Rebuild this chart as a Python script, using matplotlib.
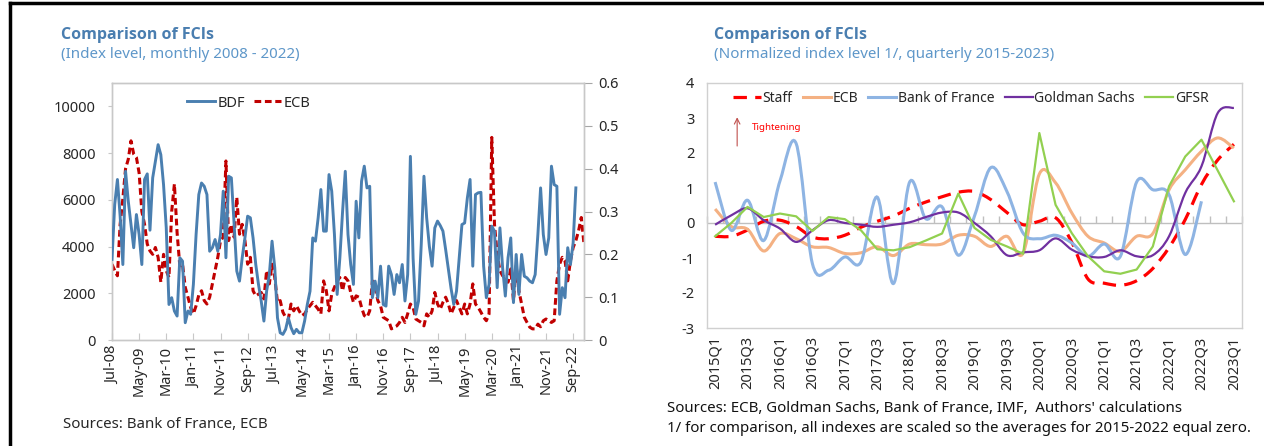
import numpy as np
import matplotlib
matplotlib.use("Agg")
import matplotlib.pyplot as plt
from matplotlib.path import Path
from matplotlib.patches import PathPatch
from matplotlib.lines import Line2D

plt.rcParams['font.family'] = ['Noto Sans', 'DejaVu Sans']

# ---- left chart: monthly index levels, Jul-08 onwards ----
bdf = [3450, 5800, 6870, 5300, 3230, 7220, 5940, 4940, 3950, 5370,
       4515, 3230, 6870, 7110, 4700, 6940, 7650, 8360, 7930, 6650,
       4800, 1520, 1810, 1240, 1025, 3520, 3375, 740, 1240, 1100,
       2380, 4515, 6225, 6720, 6580, 6225, 3800, 3950, 4300, 3800,
       4515, 6370, 3520, 7010, 6940, 5000, 2950, 2520, 3520, 4370,
       5300, 5230, 4370, 3230, 2380, 1670, 810, 2090, 2800, 4230,
       3090, 950, 310, 240, 455, 950, 530, 270, 455, 310,
       310, 810, 1520, 2090, 4370, 4230, 5230, 6440, 4660, 4660,
       7080, 6370, 4515, 1950, 3520, 5500, 7220, 4515, 3230, 2380,
       5940, 4370, 6800, 7440, 6510, 6580, 1810, 2520, 1810, 3160,
       1520, 1450, 3160, 2800, 1950, 2800, 2450, 3230, 1670, 2800,
       7860, 3500, 1100, 1670, 4090, 7010, 5230, 4000, 3160, 4800,
       5090, 4900, 4660, 3870, 3020, 2200, 1520, 2090, 3520, 4940,
       5010, 6080, 6870, 3160, 6225, 6300, 6320, 3160, 1810, 2380,
       4870, 4660, 2240, 4800, 3090, 1880, 3520, 4370, 1600, 3660,
       1950, 3660, 2730, 2660, 2520, 2450, 2800, 4515, 6510, 4515,
       3660, 4370, 7440, 6650, 6580, 1100, 2240, 1810, 3950, 3230,
       4160, 6510]
ecb_m = [.177, .162, .15, .27, .33, .40, .422, .465, .434, .426,
         .39, .30, .27, .224, .208, .20, .216, .193, .135, .20,
         .162, .146, .30, .364, .25, .173, .177, .123, .10, .076,
         .061, .08, .105, .115, .092, .084, .10, .131, .162, .193,
         .232, .24, .418, .232, .27, .24, .333, .247, .27, .232,
         .177, .193, .115, .103, .107, .111, .096, .162, .131, .177,
         .146, .088, .092, .065, .053, .049, .084, .068, .08, .068,
         .057, .061, .072, .08, .088, .08, .072, .061, .138, .115,
         .068, .107, .123, .138, .146, .115, .146, .138, .111, .088,
         .103, .10, .076, .057, .053, .068, .138, .123, .092, .08,
         .053, .049, .045, .026, .03, .033, .041, .053, .041, .061,
         .084, .076, .049, .045, .041, .033, .061, .053, .068, .111,
         .084, .072, .088, .10, .084, .061, .076, .092, .076, .061,
         .084, .061, .084, .131, .084, .076, .065, .053, .045, .061,
         .473, .27, .20, .162, .15, .146, .135, .166, .092, .173,
         .115, .084, .053, .041, .03, .026, .026, .037, .031, .045,
         .049, .045, .041, .045, .138, .177, .193, .185, .138, .185,
         .216, .232, .255, .286, .224]
month_labels = ["Jul-08", "May-09", "Mar-10", "Jan-11", "Nov-11", "Sep-12",
                "Jul-13", "May-14", "Mar-15", "Jan-16", "Nov-16", "Sep-17",
                "Jul-18", "May-19", "Mar-20", "Jan-21", "Nov-21", "Sep-22"]

# ---- right chart: normalized quarterly indexes, 2015Q1-2023Q1 ----
quarters = [f"{y}Q{q}" for y in range(2015, 2024) for q in range(1, 5)][:33]
staff = [-0.38, -0.38, -0.2, 0.05, 0.08, -0.1, -0.4, -0.45, -0.35, -0.12,
         0.05, 0.2, 0.42, 0.6, 0.75, 0.88, 0.9, 0.67, 0.3, -0.05,
         0.05, 0.15, -0.55, -1.6, -1.72, -1.78, -1.65, -1.3, -0.7, 0.1,
         1.1, 1.8, 2.25]
ecb_q = [0.4, -0.1, -0.18, -0.8, -0.3, -0.45, -0.68, -0.7, -0.87, -0.85,
         -0.68, -0.93, -0.6, -0.62, -0.6, -0.35, -0.38, -0.67, -0.38, -0.86,
         1.4, 1.15, 0.29, -0.38, -0.57, -0.81, -0.38, -0.3, 0.95, 1.52,
         2.05, 2.43, 2.14]
bank_of_france = [1.17, -0.21, 0.65, -0.5, 1.2, 2.27, -1.16, -1.35, -0.97, -1.11,
                  0.74, -1.73, 1.17, 0.12, 0.46, -0.92, 0.2, 1.58, 0.9, -0.29,
                  -0.45, -0.35, -0.57, -0.95, -0.6, -0.95, 1.17, 0.95, 0.81, -0.9,
                  0.62]
goldman = [-0.05, 0.22, 0.42, 0.08, -0.16, -0.54, -0.21, 0.08, 0.0, -0.05,
           -0.11, -0.05, 0.02, 0.17, 0.3, 0.3, 0.0, -0.38, -0.92, -0.84,
           -0.78, -0.44, -0.76, -0.95, -0.97, -0.78, -0.95, -0.92, -0.38, 0.86,
           1.62, 3.14, 3.29]
gfsr = [-0.38, 0.0, 0.46, 0.17, 0.27, 0.19, -0.23, 0.17, 0.11, -0.21,
        -0.75, -0.78, -0.69, -0.5, -0.3, 0.84, -0.14, -0.48, -0.67, -0.88,
        2.57, 0.52, -0.29, -0.95, -1.38, -1.45, -1.33, -0.67, 1.05, 1.9,
        2.38, 1.5, 0.62]

TITLE = '#4A7EB0'
SUB = '#5E97C9'
GRID = '#C8C8C8'
TXT = '#262626'
TITLE_FONT = ['Open Sans', 'DejaVu Sans']


def smooth_path(xs, ys):
    # Excel-like smoothed line: Catmull-Rom converted to cubic bezier segments
    pts = np.column_stack([xs, ys]).astype(float)
    n = len(pts)
    verts = [pts[0]]
    codes = [Path.MOVETO]
    for i in range(n - 1):
        p0 = pts[max(i - 1, 0)]
        p1 = pts[i]
        p2 = pts[i + 1]
        p3 = pts[min(i + 2, n - 1)]
        verts += [p1 + (p2 - p0) / 6.0, p2 - (p3 - p1) / 6.0, p2]
        codes += [Path.CURVE4] * 3
    return Path(verts, codes)


fig = plt.figure(figsize=(12.64, 4.46), dpi=100)

# frame lines of the pasted image
fig.add_artist(Line2D([10 / 1264, 10 / 1264], [0, 0.993], color='black', lw=2.5))
fig.add_artist(Line2D([10 / 1264, 1], [0.993, 0.993], color='black', lw=2.5))

# ================= left chart =================
ax = fig.add_axes([112 / 1264, 1 - 340 / 446, 472 / 1264, 257 / 446])
ax2 = ax.twinx()
m = np.arange(len(bdf))
me = np.arange(len(ecb_m))
ax.plot(m, bdf, color='#4A7FB0', lw=2.1, label='BDF', zorder=3)
ax2.plot(me, ecb_m, color='#C00000', lw=2.2, ls=(0, (2.2, 1.2)), label='ECB')
ax.set_zorder(ax2.get_zorder() + 1)
ax.patch.set_visible(False)

ax.set_xlim(0, 174)
ax.set_ylim(0, 11000)
ax2.set_ylim(0, 0.6)
ax.set_yticks(range(0, 10001, 2000))
ax.set_yticklabels([str(v) for v in range(0, 10001, 2000)])
ax2.set_yticks(np.arange(0, 0.61, 0.1))
ax2.set_yticklabels(['0', '0.1', '0.2', '0.3', '0.4', '0.5', '0.6'])
ax.set_xticks(np.arange(0, 171, 10))
ax.set_xticklabels(month_labels, rotation=90)
for a in (ax, ax2):
    for s in a.spines.values():
        s.set_color(GRID)
        s.set_linewidth(1.0)
ax.tick_params(axis='x', direction='in', length=5, color=GRID, labelsize=10.5, labelcolor=TXT, pad=4)
ax.tick_params(axis='y', direction='out', length=3, color=GRID, labelsize=10.5, labelcolor=TXT, pad=9)
ax2.tick_params(axis='y', direction='out', length=6, color='#A6A6A6', labelsize=10.5, labelcolor=TXT, pad=4)

h1, l1 = ax.get_legend_handles_labels()
h2, l2 = ax2.get_legend_handles_labels()
ax.legend(h1 + h2, l1 + l2, loc='center', bbox_to_anchor=(0.29, 0.922), ncol=2,
          frameon=False, fontsize=10.5, handlelength=1.9, handletextpad=0.15,
          columnspacing=0.6, labelcolor=TXT)

fig.text(61 / 1264, 1 - 35 / 446, 'Comparison of FCIs', fontsize=11.5, fontweight='bold',
         family=TITLE_FONT, color=TITLE, va='center', ha='left')
fig.text(61 / 1264, 1 - 55 / 446, '(Index level, monthly 2008 - 2022)', fontsize=10.9,
         color=SUB, va='center', ha='left')
fig.text(63 / 1264, 1 - 425 / 446, 'Sources: Bank of France, ECB', fontsize=10.8,
         color=TXT, va='center', ha='left')

# ================= right chart =================
bx = fig.add_axes([707 / 1264, 1 - 328 / 446, 535 / 1264, 245 / 446])
q = np.arange(len(quarters))
series = [
    (staff, 'Staff', dict(color='#FF0000', lw=2.3, ls=(0, (4.2, 2.6)))),
    (ecb_q, 'ECB', dict(color='#F4B183', lw=2.2, ls='-')),
    (bank_of_france, 'Bank of France', dict(color='#8EB4E3', lw=2.2, ls='-')),
    (goldman, 'Goldman Sachs', dict(color='#7030A0', lw=1.6, ls='-')),
]
handles = []
for vals, name, st in series:
    path = smooth_path(q[:len(vals)], vals)
    bx.add_patch(PathPatch(path, fill=False, edgecolor=st['color'], lw=st['lw'],
                           linestyle=st['ls'], capstyle='butt', zorder=3))
    handles.append(Line2D([], [], color=st['color'], lw=st['lw'], ls=st['ls'], label=name))
ln, = bx.plot(q, gfsr, color='#92D050', lw=1.6, label='GFSR', zorder=3)
handles.append(ln)

bx.set_xlim(-0.5, 32.5)
bx.set_ylim(-3, 4)
bx.set_yticks(range(-3, 5))
bx.set_yticklabels([str(v) for v in range(-3, 5)])
bx.set_xticks(q[::2])
bx.set_xticklabels(quarters[::2], rotation=90)
bx.axhline(0, color='#BFBFBF', lw=1.0, zorder=1)
for s in bx.spines.values():
    s.set_color('#D0D0D0')
    s.set_linewidth(1.0)
bx.tick_params(axis='x', length=0, labelsize=10.5, labelcolor=TXT, pad=6)
bx.tick_params(axis='y', length=0, labelsize=10.5, labelcolor=TXT, pad=9)

# tick marks sitting on the zero line, between categories
zx = bx.secondary_xaxis(3 / 7)
zx.set_xticks(np.arange(-0.5, 33, 1))
zx.tick_params(axis='x', direction='in', length=5, color='#BFBFBF', labelbottom=False,
               labeltop=False, width=1.0)
zx.spines['bottom'].set_visible(False)
zx.spines['top'].set_visible(False)

bx.legend(handles=handles, loc='center', bbox_to_anchor=(0.493, 0.938), ncol=5,
          frameon=False, fontsize=10, handlelength=2.0, handletextpad=0.12,
          columnspacing=0.75, labelcolor=TXT)

bx.annotate('', xy=(1.36, 3.1), xytext=(1.36, 2.12),
            arrowprops=dict(arrowstyle='->', color='#C0504D', lw=0.8))
bx.text(2.3, 2.72, 'Tightening', color='#FF0000', fontsize=7, va='center', ha='left')

fig.text(714 / 1264, 1 - 35 / 446, 'Comparison of FCIs', fontsize=11.5, fontweight='bold',
         family=TITLE_FONT, color=TITLE, va='center', ha='left')
fig.text(714 / 1264, 1 - 55 / 446, '(Normalized index level 1/, quarterly 2015-2023)',
         fontsize=10.9, color=SUB, va='center', ha='left')
fig.text(667 / 1264, 1 - 408 / 446,
         "Sources: ECB, Goldman Sachs, Bank of France, IMF,  Authors' calculations",
         fontsize=10.8, color='#111111', va='center', ha='left')
fig.text(667 / 1264, 1 - 428 / 446,
         '1/ for comparison, all indexes are scaled so the averages for 2015-2022 equal zero.',
         fontsize=10.8, color='#111111', va='center', ha='left')

fig.savefig('out.png', dpi=100)
